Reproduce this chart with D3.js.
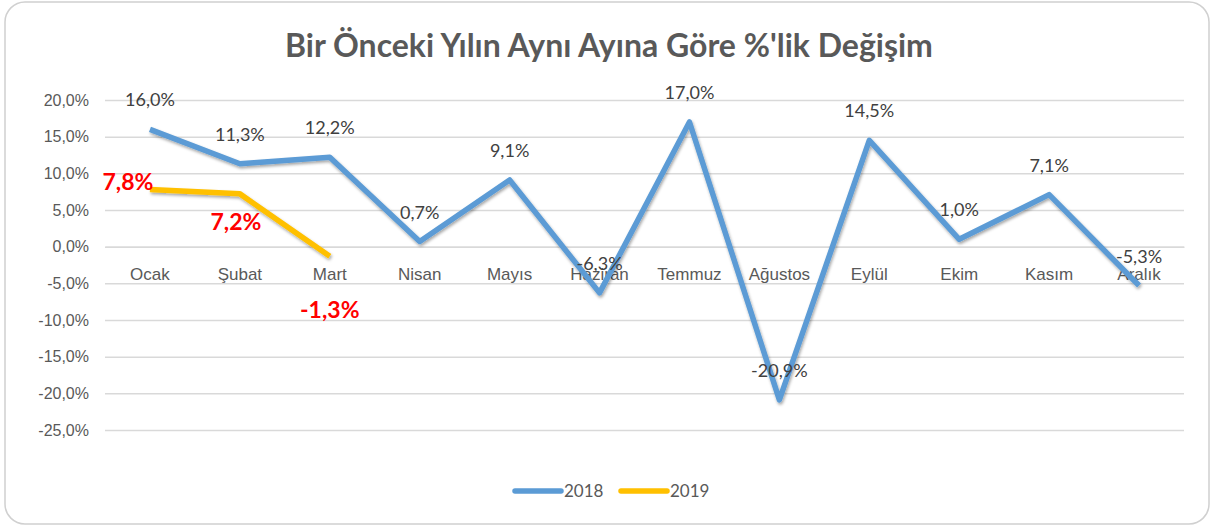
<!DOCTYPE html>
<html>
<head>
<meta charset="utf-8">
<script src="https://cdn.jsdelivr.net/npm/d3@7"></script>
<style>
  body { margin: 0; background: #fff; }
  svg { display: block; font-family: Lato, "Open Sans", sans-serif; }
</style>
</head>
<body>
<div id="chart"></div>
<script>
const months = ["Ocak", "Şubat", "Mart", "Nisan", "Mayıs", "Haziran", "Temmuz", "Ağustos", "Eylül", "Ekim", "Kasım", "Aralık"];
const values2018 = [16.0, 11.3, 12.2, 0.7, 9.1, -6.3, 17.0, -20.9, 14.5, 1.0, 7.1, -5.3];
const values2019 = [7.8, 7.2, -1.3];
const yTicks = [20, 15, 10, 5, 0, -5, -10, -15, -20, -25];
const seriesNames = ["2018", "2019"];

const width = 1214, height = 528;
const margin = { top: 100, right: 30, bottom: 98, left: 105 };
const colors = { "2018": "#5B9BD5", "2019": "#FFC000" };

const fmt = v => v.toFixed(1).replace(".", ",") + "%";

const svg = d3.select("#chart").append("svg")
    .attr("width", width)
    .attr("height", height);

const defs = svg.append("defs");
const shadow = defs.append("filter").attr("id", "shadow")
    .attr("x", "-10%").attr("y", "-10%").attr("width", "120%").attr("height", "120%");
shadow.append("feDropShadow")
    .attr("dx", 1).attr("dy", 2).attr("stdDeviation", 1.5)
    .attr("flood-color", "#000").attr("flood-opacity", 0.35);

svg.append("rect")
    .attr("x", 5).attr("y", 2)
    .attr("width", width - 10).attr("height", height - 6)
    .attr("rx", 20)
    .attr("fill", "#fff")
    .attr("stroke", "#d0d0d0")
    .attr("stroke-width", 1.5);

const xScale = d3.scaleBand()
    .domain(months)
    .range([margin.left, 1184]);

const yScale = d3.scaleLinear()
    .domain([-25, 20])
    .range([430, 100]);

// title
svg.append("text")
    .attr("x", 609).attr("y", 57)
    .attr("text-anchor", "middle")
    .attr("font-size", 32)
    .attr("font-weight", "bold")
    .attr("fill", "#595959")
    .text("Bir Önceki Yılın Aynı Ayına Göre %'lik Değişim");

// grid + y axis
const yAxis = d3.axisLeft(yScale)
    .tickValues(yTicks)
    .tickSize(-(1184 - margin.left))
    .tickPadding(16)
    .tickFormat(fmt);

svg.append("g")
    .attr("transform", `translate(${margin.left},0)`)
    .call(yAxis)
    .call(g => g.select(".domain").remove())
    .call(g => g.selectAll(".tick line").attr("stroke", "#d9d9d9").attr("stroke-width", 1.5))
    .call(g => g.selectAll(".tick text").attr("fill", "#595959").attr("font-size", 16));

// x axis labels at zero line
const xAxis = d3.axisBottom(xScale).tickSize(0).tickPadding(21);
svg.append("g")
    .attr("transform", `translate(0,${yScale(0)})`)
    .call(xAxis)
    .call(g => g.select(".domain").attr("stroke", "#d9d9d9").attr("stroke-width", 1.5))
    .call(g => g.selectAll(".tick text").attr("fill", "#595959").attr("font-size", 17));

const cx = d => xScale(d) + xScale.bandwidth() / 2;

const line = d3.line()
    .x((d, i) => cx(months[i]))
    .y(d => yScale(d));

svg.append("path")
    .datum(values2018)
    .attr("fill", "none")
    .attr("stroke", colors["2018"])
    .attr("stroke-width", 5.5)
    .attr("stroke-linejoin", "round")
    .attr("filter", "url(#shadow)")
    .attr("d", line);

svg.append("path")
    .datum(values2019)
    .attr("fill", "none")
    .attr("stroke", colors["2019"])
    .attr("stroke-width", 5.5)
    .attr("stroke-linejoin", "round")
    .attr("filter", "url(#shadow)")
    .attr("d", line);

// 2018 labels above points
svg.append("g")
    .selectAll("text")
    .data(values2018)
    .join("text")
    .attr("x", (d, i) => cx(months[i]))
    .attr("y", d => yScale(d) - 23)
    .attr("text-anchor", "middle")
    .attr("font-size", 18)
    .attr("fill", "#404040")
    .text(d => fmt(d));

// 2019 labels, red bold
const labelOffsets2019 = [[-22, 1], [-4, 36], [0, 62]];
svg.append("g")
    .selectAll("text")
    .data(values2019)
    .join("text")
    .attr("x", (d, i) => cx(months[i]) + labelOffsets2019[i][0])
    .attr("y", (d, i) => yScale(d) + labelOffsets2019[i][1])
    .attr("text-anchor", "middle")
    .attr("font-size", 23)
    .attr("font-weight", "bold")
    .attr("fill", "#ff0000")
    .text(d => fmt(d));

// legend
const legend = svg.append("g")
    .selectAll("g")
    .data(seriesNames)
    .join("g")
    .attr("transform", (d, i) => `translate(${515 + i * 106},491)`);

legend.append("line")
    .attr("x1", 0).attr("x2", 46)
    .attr("stroke", d => colors[d])
    .attr("stroke-width", 5.5)
    .attr("stroke-linecap", "round");

legend.append("text")
    .attr("x", 49).attr("y", 6)
    .attr("font-size", 17)
    .attr("fill", "#595959")
    .text(d => d);
</script>
</body>
</html>
